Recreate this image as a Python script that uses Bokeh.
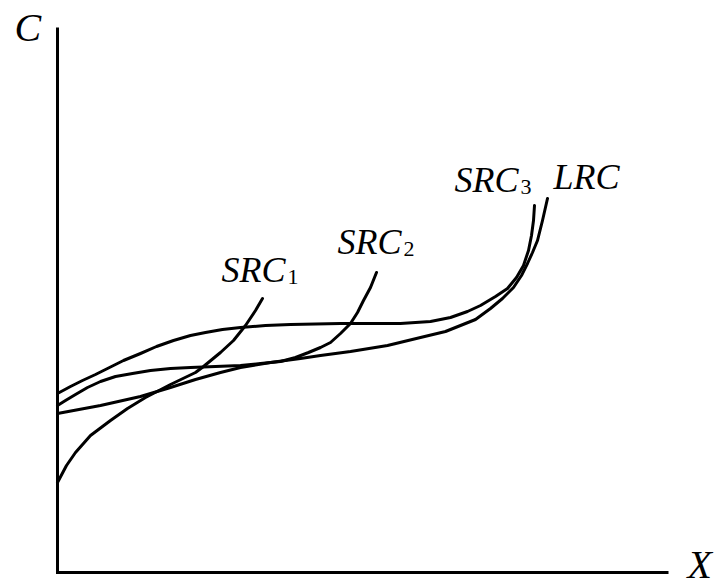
from bokeh.plotting import figure
from bokeh.models import Range1d, Label
from bokeh.embed import file_html
from bokeh.resources import INLINE

# ---- data (arbitrary units: output X, cost C) ----
src1_x = [0, 9, 18, 33, 53, 70, 88, 113, 138, 146, 163, 176, 188, 198, 205]
src1_y = [90, 107, 120, 137, 152, 164, 175, 188, 200, 206, 220, 232, 247, 262, 274]

src2_x = [0, 8, 18, 30, 43, 58, 75, 93, 113, 133, 158, 183, 203, 223, 238, 251, 263, 273, 283, 293, 300, 306, 313, 319]
src2_y = [167, 172, 178, 185, 191, 196, 199, 202, 204, 205, 206, 207, 209, 211, 215, 220, 225, 230, 239, 249, 260, 272, 285, 300]

src3_x = [0, 13, 25, 38, 50, 66, 83, 99, 116, 133, 148, 165, 183, 208, 233, 283, 343, 373, 393, 410, 423, 438, 450, 459, 466, 471, 474, 476, 477]
src3_y = [179, 186, 192, 198, 204, 212, 219, 226, 232, 237, 240, 243, 245, 247, 248, 249, 249, 251, 255, 261, 267, 276, 284, 295, 307, 322, 337, 352, 367]

lrc_x = [0, 43, 83, 113, 138, 163, 183, 213, 243, 263, 293, 330, 363, 388, 403, 418, 433, 445, 456, 464, 470, 475, 480, 485, 490]
lrc_y = [159, 167, 176, 185, 193, 200, 205, 210, 214, 217, 221, 227, 235, 241, 247, 253, 264, 274, 285, 297, 309, 320, 332, 352, 374]

curve_names = ["SRC", "SRC", "SRC", "LRC"]
curve_subs = ["1", "2", "3", ""]
axis_names = ["C", "X"]

X_MAX, Y_MAX = 611, 545   # extent of the drawn axes

p = figure(width=723, height=587, x_range=Range1d(-57, 666), y_range=Range1d(-15, 572),
           output_backend="svg", toolbar_location=None, min_border=0)
p.axis.visible = False
p.grid.visible = False
p.outline_line_color = None
p.background_fill_color = "white"
p.border_fill_color = "white"

# axes
p.line([0, 0, X_MAX], [Y_MAX, 0, 0], line_color="black", line_width=3, line_join="miter")

curves = [(src1_x, src1_y), (src2_x, src2_y), (src3_x, src3_y), (lrc_x, lrc_y)]
for cx, cy in curves:
    p.line(cx, cy, line_color="black", line_width=3, line_join="round", line_cap="round")

FONT = "Liberation Serif"
# label offsets relative to each curve's end point (screen px)
offsets = [(-41, 29), (-39, 31), (-80, 26), (6, 22)]
for (cx, cy), name, sub, (dx, dy) in zip(curves, curve_names, curve_subs, offsets):
    p.add_layout(Label(x=cx[-1], y=cy[-1], x_offset=dx, y_offset=dy, text=name,
                       text_font=FONT, text_font_style="italic", text_font_size="36px",
                       text_color="black", text_align="left", text_baseline="alphabetic"))
    if sub:
        p.add_layout(Label(x=cx[-1], y=cy[-1], x_offset=dx + 66, y_offset=dy - 7, text=sub,
                           text_font=FONT, text_font_size="22px", text_color="black",
                           text_align="left", text_baseline="alphabetic"))

p.add_layout(Label(x=0, y=Y_MAX, x_offset=-43, y_offset=0, text=axis_names[0],
                   text_font=FONT, text_font_style="italic", text_font_size="40px",
                   text_color="black", text_align="left", text_baseline="alphabetic"))
p.add_layout(Label(x=X_MAX, y=0, x_offset=19, y_offset=8, text=axis_names[1],
                   text_font=FONT, text_font_style="italic", text_font_size="40px",
                   text_color="black", text_align="left", text_baseline="alphabetic"))

open("out.html", "w").write(file_html(p, INLINE))
